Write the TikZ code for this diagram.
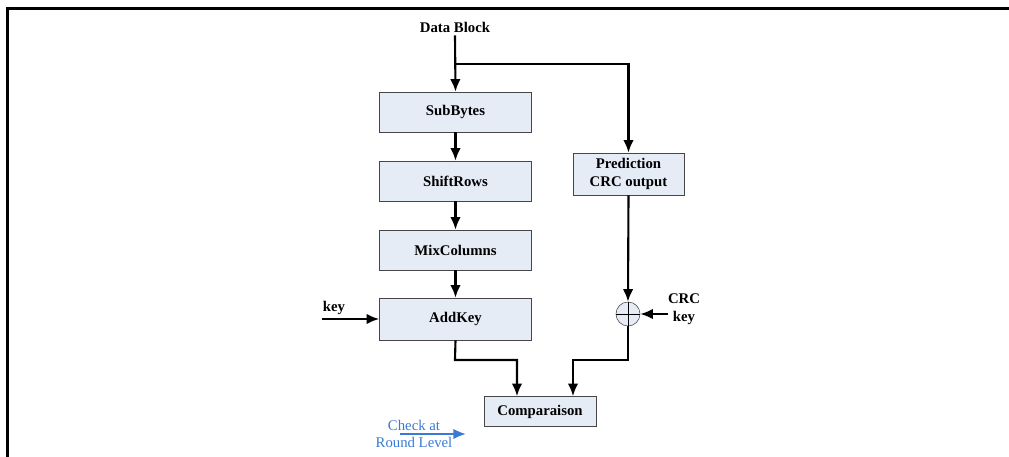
\documentclass[tikz,border=0pt]{standalone}
\usepackage{fontspec}
\setmainfont{Liberation Serif}
\usepackage{xcolor}
\usepackage{tikz}
\usetikzlibrary{calc}
\usetikzlibrary{shapes,arrows,arrows.meta,positioning}
\definecolor{boxfill}{RGB}{230,236,246}
\definecolor{boxline}{RGB}{70,70,70}
\definecolor{roundblue}{RGB}{58,122,212}

\begin{document}
\begin{tikzpicture}[x=0.025cm,y=-0.025cm,
	font=\fontsize{10.5}{12.5}\selectfont,
	block/.style={draw=boxline,fill=boxfill,minimum width=3.8cm,minimum height=1cm,font=\fontsize{10.5}{12.5}\selectfont\bfseries},
	arr/.style={-{Latex[length=9pt,width=7.5pt]},line width=1.5pt},
	label/.style={font=\fontsize{10.5}{13}\selectfont\bfseries,align=center,inner sep=0pt}]
	\useasboundingbox (0,0) rectangle (1009,457);
	\draw[line width=2pt] (1009,8.5) -- (7.5,8.5) -- (7.5,457);
	% left column
	\node[label] (data) at (455,27) {Data Block};
	\node[block] (subbytes) at (455.5,112) {SubBytes};
	\node[block] (shiftrows) at (455.5,181) {ShiftRows};
	\node[block] (mixcol) at (455.5,250) {MixColumns};
	\node[block,minimum height=1.05cm] (addkey) at (455.5,319) {AddKey};
	\node[block,minimum width=2.8cm,minimum height=0.75cm] (comp) at (540,411.5) {Comparaison};
	% right column
	\node[block,minimum width=2.78cm,minimum height=1.05cm,font=\fontsize{10.5}{13}\selectfont\bfseries,align=center] (pred) at (628.5,174) {Prediction\\CRC output};
	\node[draw=boxline,fill=boxfill,circle,minimum size=0.6cm,inner sep=0pt] (xor) at (628,314) {};
	\draw[line width=0.7pt] (xor.north) -- (xor.south) (xor.west) -- (xor.east);
	\node[label] (crckey) at (684,309) {CRC\\key};
	\node[label] (key) at (334,308) {key};
	\coordinate (split) at (455,64);
	\coordinate (keystart) at (322,319);
	\coordinate (crcstart) at (668,314);
	% connectors
	\draw[arr] (data.south) ++(0,3) -- (subbytes.north);
	\draw[arr] (split) -| (pred.north);
	\draw[arr] (subbytes) -- (shiftrows);
	\draw[arr] (shiftrows) -- (mixcol);
	\draw[arr] (mixcol) -- (addkey);
	\draw[arr] (keystart) -- (addkey.west);
	\draw[arr] (pred.south) -- (xor.north);
	\draw[arr] (crcstart) -- (xor.east);
	\draw[arr] (addkey.south) -- (455,360) -| ($(comp.north)+(-23,0)$);
	\draw[arr] (xor.south) -- (628,360) -| ($(comp.north)+(33,0)$);
	% round level check
	\node[text=roundblue,align=center,inner sep=0pt,font=\fontsize{10.5}{11.5}\selectfont] (check) at (414,434) {Check at\\Round Level};
	\draw[-{Latex[length=9pt,width=7.5pt]},line width=1.5pt,roundblue] (400,434) -- (466,434);
\end{tikzpicture}
\end{document}
